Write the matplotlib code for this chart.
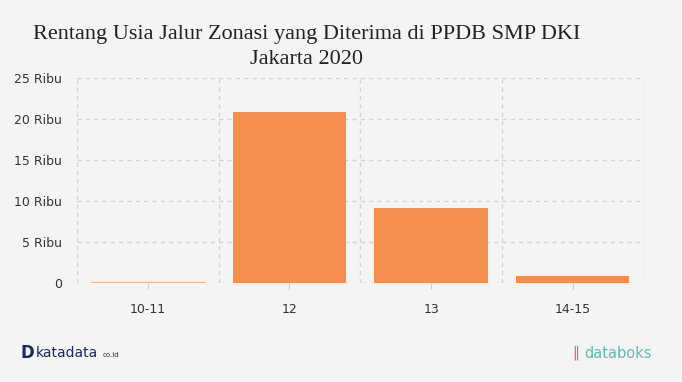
import matplotlib
matplotlib.use("Agg")
import matplotlib.pyplot as plt
import numpy as np

categories = ["10-11", "12", "13", "14-15"]
values = [150, 20900, 9220, 950]
yticks = [0, 5000, 10000, 15000, 20000, 25000]
ytick_labels = ["0", "5 Ribu", "10 Ribu", "15 Ribu", "20 Ribu", "25 Ribu"]

bg = "#f4f4f4"
bar_color = "#f58d4f"
grid_color = "#d2d2d2"

fig = plt.figure(figsize=(6.82, 3.82), dpi=100, facecolor=bg)
ax = fig.add_axes([77/682, 1-283.3/382, 566.6/682, 205/382], facecolor=bg)

x = np.arange(len(categories))
bars = ax.bar(x, values, width=0.8, color=bar_color, zorder=3, edgecolor="none")
bars[0].set_color("#f7b48a")

ax.set_xlim(-0.5, len(categories) - 0.5)
ax.set_ylim(0, 25000)
ax.set_yticks(yticks)
ax.set_yticklabels(ytick_labels)
ax.set_xticks(x)
ax.set_xticklabels(categories)

for yv in yticks:
    ax.axhline(yv, color=grid_color, linestyle=(0, (3, 3)), linewidth=1, zorder=1)
for xv in np.arange(-0.5, len(categories), 1.0):
    ax.axvline(xv, color=grid_color, linestyle=(0, (3, 3)), linewidth=1, zorder=1)

for s in ax.spines.values():
    s.set_visible(False)

ax.tick_params(axis="y", length=0, pad=11, labelsize=9, labelcolor="#333333")
ax.tick_params(axis="x", length=4, color="#cccccc", pad=10, labelsize=9, labelcolor="#333333")
for lbl in ax.get_yticklabels() + ax.get_xticklabels():
    lbl.set_family("DejaVu Sans")

fig.text(307/682, 1-35/382, "Rentang Usia Jalur Zonasi yang Diterima di PPDB SMP DKI",
         ha="center", va="center", fontsize=16, family="Liberation Serif", color="#222222")
fig.text(307/682, 1-60/382, "Jakarta 2020",
         ha="center", va="center", fontsize=16, family="Liberation Serif", color="#222222")

fig.text(21/682, 1-353/382, "D", ha="left", va="center", fontsize=12, fontweight="bold",
         color="#1a2a5a", family="DejaVu Sans")
fig.text(36/682, 1-353/382, "katadata", ha="left", va="center", fontsize=10,
         color="#1a2a5a", family="DejaVu Sans")
fig.text(103/682, 1-355/382, "co.id", ha="left", va="center", fontsize=5,
         color="#1a2a5a", family="DejaVu Sans")
fig.text(572/682, 1-353/382, "\u2016", ha="left", va="center", fontsize=10,
         color="#e0604a", family="DejaVu Sans")
fig.text(584/682, 1-353/382, "databoks", ha="left", va="center", fontsize=10.5,
         color="#5bbcb5", family="DejaVu Sans")

fig.savefig("out.png", dpi=100, facecolor=bg)
